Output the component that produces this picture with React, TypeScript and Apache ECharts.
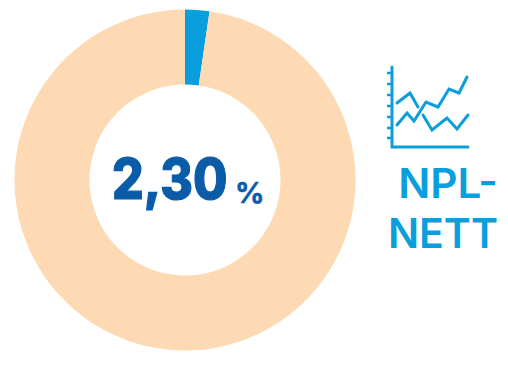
import React, { useEffect, useRef } from "react";
import * as echarts from "echarts";

const sliceNames = ["NPL netto", "Rest"];
const sliceValues = [2.3, 97.7];
const sliceColors = ["#0a9fdc", "#fddab3"];
const valueText = "2,30";
const unitText = "%";
const captionLines = ["NPL-", "NETT"];

// Small line-chart pictogram beside the ring
const iconFrame = [[392, 67], [392, 147], [468, 147]];
const iconTickRows = [73, 84, 95, 106, 117, 128, 138];
const iconTraces = [
  [[397, 103], [410, 93], [418, 107]],
  [[397, 125], [407, 113], [414, 121], [426, 102], [438, 107], [449, 89], [459, 93], [467, 77]],
  [[423, 115], [432, 130], [447, 118], [457, 129], [468, 115]],
];

const BLUE = "#0a9fdc";
const DARK = "#0a5ca8";
const FONT = "Inter, 'Open Sans', sans-serif";

export default function App() {
  const ref = useRef<HTMLDivElement>(null);
  useEffect(() => {
    const chart = echarts.init(ref.current!, undefined, { renderer: "svg" });
    const strokeStyle = { stroke: BLUE, lineWidth: 3, fill: "none", lineCap: "round", lineJoin: "miter" };
    chart.setOption({
      animation: false,
      backgroundColor: "#ffffff",
      series: [
        {
          type: "pie",
          center: [185, 180],
          radius: [95.5, 170.5],
          startAngle: 90,
          clockwise: true,
          silent: true,
          label: { show: false },
          labelLine: { show: false },
          data: sliceValues.map((value, i) => ({
            name: sliceNames[i],
            value,
            itemStyle: { color: sliceColors[i] },
          })),
        },
      ],
      graphic: [
        {
          type: "text",
          x: 112,
          y: 179,
          scaleX: 0.89,
          style: { text: valueText, fill: DARK, stroke: DARK, lineWidth: 1.2, font: `800 56px ${FONT}`, textVerticalAlign: "middle" },
        },
        {
          type: "text",
          x: 235,
          y: 192,
          style: { text: unitText, fill: DARK, stroke: DARK, lineWidth: 0.5, font: `700 29px ${FONT}`, textVerticalAlign: "middle" },
        },
        {
          type: "text",
          x: 498,
          y: 183,
          scaleX: 1.03,
          style: { text: captionLines[0], fill: BLUE, font: `600 41px ${FONT}`, textAlign: "right", textVerticalAlign: "middle" },
        },
        {
          type: "text",
          x: 498,
          y: 233,
          style: { text: captionLines[1], fill: BLUE, font: `600 41px ${FONT}`, textAlign: "right", textVerticalAlign: "middle" },
        },
        { type: "polyline", shape: { points: iconFrame }, style: strokeStyle },
        ...iconTickRows.map((y) => ({
          type: "line",
          shape: { x1: 387, y1: y, x2: 392, y2: y },
          style: { stroke: BLUE, lineWidth: 2.5 },
        })),
        ...iconTraces.map((points) => ({
          type: "polyline",
          shape: { points },
          style: strokeStyle,
        })),
      ],
    });
    return () => chart.dispose();
  }, []);
  return (
    <div
      ref={ref}
      style={{ position: "fixed", left: 0, top: 0, width: 508, height: 373 }}
    />
  );
}
